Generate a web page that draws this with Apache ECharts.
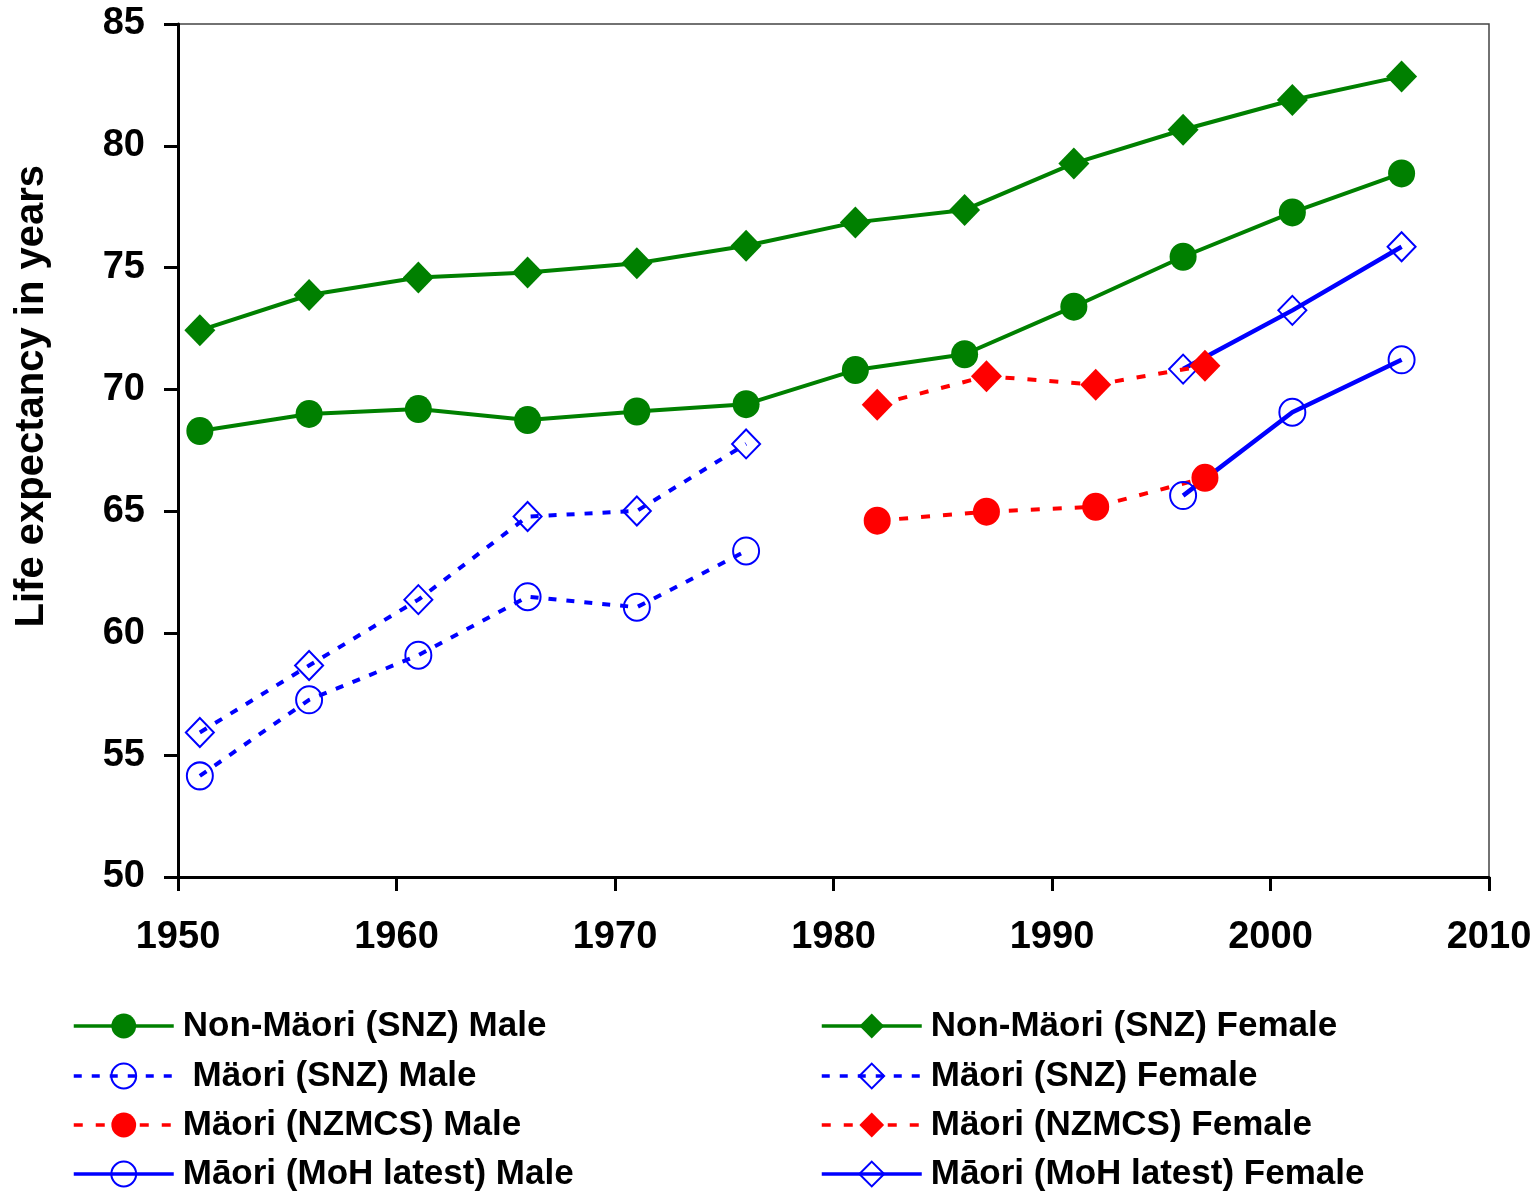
<!DOCTYPE html>
<html>
<head>
<meta charset="utf-8">
<script src="https://cdn.jsdelivr.net/npm/echarts@6/dist/echarts.min.js"></script>
<style>
html,body{margin:0;padding:0;background:#fff;}
#chart{width:1538px;height:1191px;}
</style>
</head>
<body>
<div id="chart"></div>
<script>
// ---- data ----
const yearsSNZ = [1951, 1956, 1961, 1966, 1971, 1976, 1981, 1986, 1991, 1996, 2001, 2006];
const nonMaoriMale   = [68.3, 69.0, 69.2, 68.75, 69.1, 69.4, 70.8, 71.45, 73.4, 75.45, 77.27, 78.87];
const nonMaoriFemale = [72.43, 73.88, 74.6, 74.8, 75.18, 75.9, 76.86, 77.37, 79.28, 80.66, 81.88, 82.85];

const yearsMaoriSNZ = [1951, 1956, 1961, 1966, 1971, 1976];
const maoriSNZMale   = [54.15, 57.27, 59.1, 61.5, 61.07, 63.38];
const maoriSNZFemale = [55.93, 58.68, 61.38, 64.79, 65.02, 67.77];

const yearsNZMCS = [1982, 1987, 1992, 1997];
const maoriNZMCSMale   = [64.62, 64.99, 65.19, 66.38];
const maoriNZMCSFemale = [69.38, 70.55, 70.2, 70.98];

const yearsMoH = [1996, 2001, 2006];
const maoriMoHMale   = [65.65, 69.07, 71.22];
const maoriMoHFemale = [70.84, 73.25, 75.86];

const xTicks = {min: 1950, max: 2010, interval: 10};
const yTicks = {min: 50, max: 85, interval: 5};

const names = {
  nmM: 'Non-Mäori (SNZ) Male',
  nmF: 'Non-Mäori (SNZ) Female',
  sM: ' Mäori (SNZ) Male',
  sF: 'Mäori (SNZ) Female',
  zM: 'Mäori (NZMCS) Male',
  zF: 'Mäori (NZMCS) Female',
  hM: 'Māori (MoH latest) Male',
  hF: 'Māori (MoH latest) Female'
};
const legendLeftColumn  = [names.nmM, names.sM, names.zM, names.hM];
const legendRightColumn = [names.nmF, names.sF, names.zF, names.hF];
const yTitle = 'Life expectancy in years';

function pairs(xs, ys){ return xs.map((x,i)=>[x, ys[i]]); }

const GREEN = '#008000', BLUE = '#0000FF', RED = '#FF0000';
const FONT = "'Liberation Sans', Arial, Helvetica, sans-serif";

function filledSeries(name, xs, ys, color, symbol, size, dashed){
  return {
    name, type: 'line', data: pairs(xs, ys),
    symbol, symbolSize: size,
    itemStyle: {color: color},
    lineStyle: {color: color, width: 4, type: dashed ? [9, 13] : 'solid'},
    emphasis: {disabled: true},
    animation: false
  };
}
function openSeries(name, xs, ys, symbol, size, dashed){
  return {
    name, type: 'line', data: pairs(xs, ys),
    symbol, symbolSize: size,
    itemStyle: {color: 'rgba(255,255,255,0)', borderColor: BLUE, borderWidth: 2},
    lineStyle: {color: BLUE, width: dashed ? 4 : 4.5, type: dashed ? [8, 10] : 'solid'},
    emphasis: {disabled: true},
    animation: false
  };
}

const ITEM_H = 31;
const rowCenters = [1024, 1074, 1123, 1172];
function legendFor(name, left, row){
  return {
    orient: 'vertical',
    left: left,
    top: rowCenters[row] - ITEM_H / 2,
    itemWidth: 100,
    itemHeight: ITEM_H,
    padding: 0,
    selectedMode: false,
    lineStyle: {width: 3.5},
    data: [name],
    textStyle: {fontSize: 35, lineHeight: ITEM_H, fontWeight: 'bold', color: '#000', fontFamily: FONT, padding: [0, 0, 0, 4]}
  };
}
const legends = [];
legendLeftColumn.forEach((n, i) => legends.push(legendFor(n, 72, i)));
legendRightColumn.forEach((n, i) => legends.push(legendFor(n, 820, i)));

const chart = echarts.init(document.getElementById('chart'), null, {renderer: 'canvas'});
chart.setOption({
  backgroundColor: '#fff',
  animation: false,
  grid: {left: 178, right: 49, top: 24, bottom: 314, show: true, borderColor: '#444', borderWidth: 1.5, backgroundColor: 'transparent'},
  xAxis: {
    type: 'value', min: xTicks.min, max: xTicks.max, interval: xTicks.interval,
    axisLine: {show: true, onZero: false, lineStyle: {color: '#000', width: 3}},
    axisTick: {show: true, inside: false, length: 14, lineStyle: {color: '#000', width: 3}},
    axisLabel: {margin: 42, fontSize: 38, fontWeight: 'bold', color: '#000', fontFamily: FONT,
      formatter: v => String(v)},
    splitLine: {show: false}
  },
  yAxis: {
    type: 'value', min: yTicks.min, max: yTicks.max, interval: yTicks.interval,
    axisLine: {show: true, onZero: false, lineStyle: {color: '#000', width: 3}},
    axisTick: {show: true, inside: false, length: 14, lineStyle: {color: '#000', width: 3}},
    axisLabel: {margin: 33, fontSize: 38, fontWeight: 'bold', color: '#000', fontFamily: FONT,
      formatter: v => String(v)},
    splitLine: {show: false}
  },
  legend: legends,
  graphic: [{
    type: 'text',
    left: 12, top: 165,
    rotation: Math.PI / 2,
    style: {text: yTitle, fill: '#000', font: "bold 40px " + FONT}
  }],
  series: [
    filledSeries(names.nmF, yearsSNZ, nonMaoriFemale, GREEN, 'diamond', [31, 32], false),
    filledSeries(names.nmM, yearsSNZ, nonMaoriMale, GREEN, 'circle', [27, 28], false),
    openSeries(names.sF, yearsMaoriSNZ, maoriSNZFemale, 'diamond', [28, 29], true),
    openSeries(names.sM, yearsMaoriSNZ, maoriSNZMale, 'circle', [26, 27], true),
    openSeries(names.hF, yearsMoH, maoriMoHFemale, 'diamond', [28, 29], false),
    openSeries(names.hM, yearsMoH, maoriMoHMale, 'circle', [26, 27], false),
    filledSeries(names.zF, yearsNZMCS, maoriNZMCSFemale, RED, 'diamond', [31, 32], true),
    filledSeries(names.zM, yearsNZMCS, maoriNZMCSMale, RED, 'circle', [27, 28], true)
  ]
});
</script>
</body>
</html>
